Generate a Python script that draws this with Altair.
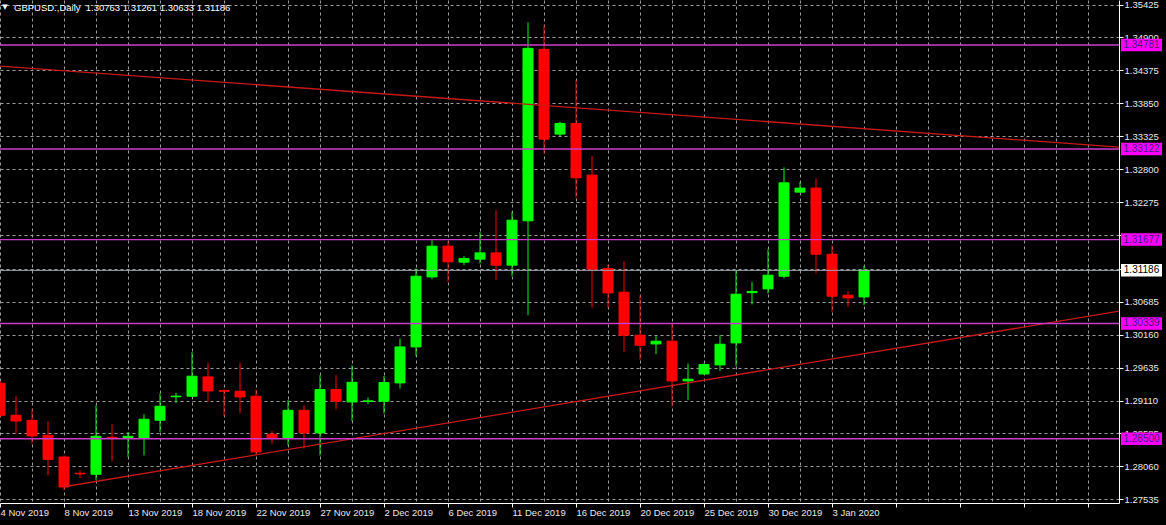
import json
import altair as alt
import pandas as pd

# ---------------- data ----------------
opens = [1.29386, 1.28875, 1.28795, 1.28556, 1.28210, 1.27950, 1.27934, 1.28525, 1.28520, 1.28513,
         1.28796, 1.29170, 1.29179, 1.29487, 1.29268, 1.29258, 1.29179, 1.28572, 1.28513, 1.28955,
         1.28593, 1.29285, 1.29088, 1.29095, 1.29099, 1.29391, 1.29965, 1.31082, 1.31572, 1.31317,
         1.31365, 1.31465, 1.31269, 1.31976, 1.34711, 1.33359, 1.33530, 1.32705, 1.31216, 1.30838,
         1.30152, 1.30013, 1.30056, 1.29423, 1.29534, 1.29678, 1.30029, 1.30830, 1.30891, 1.31093,
         1.32434, 1.32498, 1.31444, 1.30790, 1.30763]
highs = [1.29420, 1.29179, 1.28971, 1.28780, 1.28237, 1.27998, 1.29035, 1.28732, 1.28609, 1.28891,
         1.29222, 1.29231, 1.29885, 1.29710, 1.29290, 1.29710, 1.29285, 1.28625, 1.29115, 1.29035,
         1.29514, 1.29514, 1.29673, 1.29158, 1.29503, 1.30099, 1.31216, 1.31668, 1.31652, 1.31413,
         1.31800, 1.32147, 1.32120, 1.35142, 1.35088, 1.33556, 1.34221, 1.33008, 1.31280, 1.31333,
         1.30790, 1.30136, 1.30339, 1.29700, 1.29700, 1.30152, 1.31189, 1.31003, 1.31519, 1.32828,
         1.32598, 1.32652, 1.31588, 1.30854, 1.31261]
lows = [1.28840, 1.28583, 1.28424, 1.27918, 1.27679, 1.27870, 1.27838, 1.28146, 1.28210, 1.28237,
        1.28609, 1.29072, 1.29170, 1.29088, 1.28859, 1.28912, 1.28237, 1.28424, 1.28397, 1.28344,
        1.28237, 1.28971, 1.28784, 1.29051, 1.28902, 1.29301, 1.29822, 1.31046, 1.31003, 1.31269,
        1.31296, 1.31030, 1.31093, 1.30471, 1.33051, 1.33327, 1.32343, 1.30594, 1.30588, 1.29885,
        1.29764, 1.29849, 1.29019, 1.29115, 1.29525, 1.29582, 1.29662, 1.30642, 1.30817, 1.31057,
        1.32434, 1.31137, 1.30524, 1.30604, 1.30633]
closes = [1.28875, 1.28784, 1.28545, 1.28173, 1.27731, 1.27940, 1.28540, 1.28515, 1.28540, 1.28812,
          1.29019, 1.29180, 1.29498, 1.29263, 1.29258, 1.29167, 1.28290, 1.28513, 1.28955, 1.28593,
          1.29285, 1.29099, 1.29402, 1.29105, 1.29397, 1.29965, 1.31093, 1.31572, 1.31322, 1.31376,
          1.31465, 1.31269, 1.31987, 1.34727, 1.33279, 1.33530, 1.32662, 1.31205, 1.30827, 1.30152,
          1.29992, 1.30056, 1.29423, 1.29450, 1.29684, 1.30008, 1.30806, 1.30850, 1.31109, 1.32582,
          1.32498, 1.31444, 1.30774, 1.30747, 1.31186]

date_labels = ["4 Nov 2019", "8 Nov 2019", "13 Nov 2019", "18 Nov 2019", "22 Nov 2019",
               "27 Nov 2019", "2 Dec 2019", "6 Dec 2019", "11 Dec 2019", "16 Dec 2019",
               "20 Dec 2019", "25 Dec 2019", "30 Dec 2019", "3 Jan 2020"]
label_step = 4
grid_step = 2

price_ticks = [1.27535, 1.28060, 1.28585, 1.29110, 1.29635, 1.30160, 1.30685, 1.31215,
               1.31745, 1.32275, 1.32800, 1.33325, 1.33850, 1.34375, 1.34900, 1.35425]
# grid levels whose labels are fully hidden behind price boxes in the reference
hidden_tick_labels = [1.31215, 1.31745]

levels = [1.34781, 1.33122, 1.31677, 1.30339, 1.28500]
last_price = 1.31186

trend_down_x = [0, 69.94]
trend_down_y = [1.34444, 1.33152]
trend_up_x = [4, 69.94]
trend_up_y = [1.27735, 1.30535]

header = "GBPUSD.,Daily\u00a0\u00a01.30763 1.31261 1.30633 1.31186"

# ---------------- layout / style ----------------
W, H = 1119, 503
FONT = "Liberation Sans"
GREEN, RED = "#00ff00", "#ff0000"
GRID = "#9c9c9c"

candles = pd.DataFrame({
    "i": list(range(len(opens))),
    "open": opens, "high": highs, "low": lows, "close": closes,
})
candles["dir"] = ["up" if c >= o else "down" for o, c in zip(opens, closes)]

xscale = alt.Scale(domain=[0, W / 16], nice=False, zero=False, padding=0)
yscale = alt.Scale(domain=[1.27476, 1.35498], nice=False, zero=False, padding=0)
dir_scale = alt.Scale(domain=["up", "down"], range=[GREEN, RED])

label_arr = json.dumps(date_labels)
x_axis = alt.Axis(
    values=list(range(0, 70, grid_step)),
    labelExpr=f"datum.value % {label_step} === 0 ? {label_arr}[datum.value / {label_step}] : ''",
    grid=True, gridColor=GRID, gridDash=[3, 3], gridWidth=1,
    tickSize=4,
    tickColor={"condition": {"test": f"datum.value % {label_step} === 0", "value": "#ffffff"},
               "value": "transparent"},
    domainColor="#ffffff", domainWidth=1,
    labelAlign="left", labelBaseline="top", labelPadding=0.5,
    labelFlush=False, labelOverlap=False, labelBound=False,
    labelColor="#e8e8e8", labelFont=FONT, labelFontSize=9.5,
    title=None,
)
hidden_test = " || ".join(f"abs(datum.value - {v}) < 0.00001" for v in hidden_tick_labels)
y_axis = alt.Axis(
    orient="right", values=price_ticks,
    labelExpr=f"({hidden_test}) ? '' : format(datum.value, '.5f')",
    grid=True, gridColor=GRID, gridDash=[3, 3], gridWidth=1,
    tickSize=4, tickColor="#ffffff",
    domainColor="#ffffff", domainWidth=1,
    labelPadding=1, labelOverlap=False, labelFlush=False,
    labelColor="#e8e8e8", labelFont=FONT, labelFontSize=9.5,
    title=None,
)

X = alt.X("i:Q", scale=xscale, axis=x_axis)

wicks = alt.Chart(candles).mark_rule(strokeWidth=1, clip=True).encode(
    x=X,
    y=alt.Y("low:Q", scale=yscale, axis=y_axis),
    y2="high:Q",
    color=alt.Color("dir:N", scale=dir_scale, legend=None),
)
bodies = alt.Chart(candles).mark_bar(size=10, strokeWidth=1, clip=True).encode(
    x=X,
    y=alt.Y("open:Q", scale=yscale, axis=y_axis),
    y2="close:Q",
    fill=alt.Fill("dir:N", scale=dir_scale, legend=None),
    stroke=alt.Stroke("dir:N", scale=dir_scale, legend=None),
)

trend_df = pd.DataFrame({
    "line": ["down"] * len(trend_down_x) + ["up"] * len(trend_up_x),
    "i": trend_down_x + trend_up_x,
    "p": trend_down_y + trend_up_y,
})
trends = alt.Chart(trend_df).mark_line(color="#c81818", strokeWidth=1.3, clip=True).encode(
    x=X,
    y=alt.Y("p:Q", scale=yscale, axis=y_axis),
    detail="line:N",
)

lvl_df = pd.DataFrame({"p": levels, "lab": [f"{v:.5f}" for v in levels]})
level_lines = alt.Chart(lvl_df).mark_rule(color="#cc3ccc", strokeWidth=1.4).encode(
    y=alt.Y("p:Q", scale=yscale, axis=y_axis),
)

last_df = pd.DataFrame({"p": [last_price], "lab": [f"{last_price:.5f}"]})
last_line = alt.Chart(last_df).mark_rule(color="#a0a6b4", strokeWidth=1).encode(
    y=alt.Y("p:Q", scale=yscale, axis=y_axis),
)

lvl_boxes = alt.Chart(lvl_df).mark_rule(color="#ff00ff", strokeWidth=12.5, strokeCap="butt").encode(
    y=alt.Y("p:Q", scale=yscale, axis=y_axis),
    x=alt.value(W + 2), x2=alt.value(W + 43),
)
lvl_text = alt.Chart(lvl_df).mark_text(
    align="center", baseline="middle", font=FONT, fontSize=10, color="#4a1a7a"
).encode(
    y=alt.Y("p:Q", scale=yscale, axis=y_axis),
    x=alt.value(W + 22.5), text="lab:N",
)
last_box = alt.Chart(last_df).mark_rule(color="#ffffff", strokeWidth=12.5, strokeCap="butt").encode(
    y=alt.Y("p:Q", scale=yscale, axis=y_axis),
    x=alt.value(W + 2), x2=alt.value(W + 43),
)
last_text = alt.Chart(last_df).mark_text(
    align="center", baseline="middle", font=FONT, fontSize=10, color="#000000"
).encode(
    y=alt.Y("p:Q", scale=yscale, axis=y_axis),
    x=alt.value(W + 22.5), text="lab:N",
)

hdr_df = pd.DataFrame({"t": [header], "tri": ["\u25bc"]})
hdr = alt.Chart(hdr_df).mark_text(
    align="left", baseline="middle", font=FONT, fontSize=9.5, color="#ffffff"
).encode(x=alt.value(14), y=alt.value(8), text="t:N")
tri = alt.Chart(hdr_df).mark_text(
    align="center", baseline="middle", font="DejaVu Sans", fontSize=7, color="#ffffff"
).encode(x=alt.value(5), y=alt.value(7), text="tri:N")

chart = alt.layer(
    wicks, bodies, trends, level_lines, last_line,
    lvl_boxes, lvl_text, last_box, last_text, hdr, tri,
).properties(
    width=W, height=H,
    background="#000000",
    padding={"left": 0, "top": 0, "right": 47, "bottom": 22},
    autosize=alt.AutoSizeParams(type="none"),
).configure_view(stroke=None)

chart.save("out.html", embed_options={"renderer": "svg", "actions": False})
